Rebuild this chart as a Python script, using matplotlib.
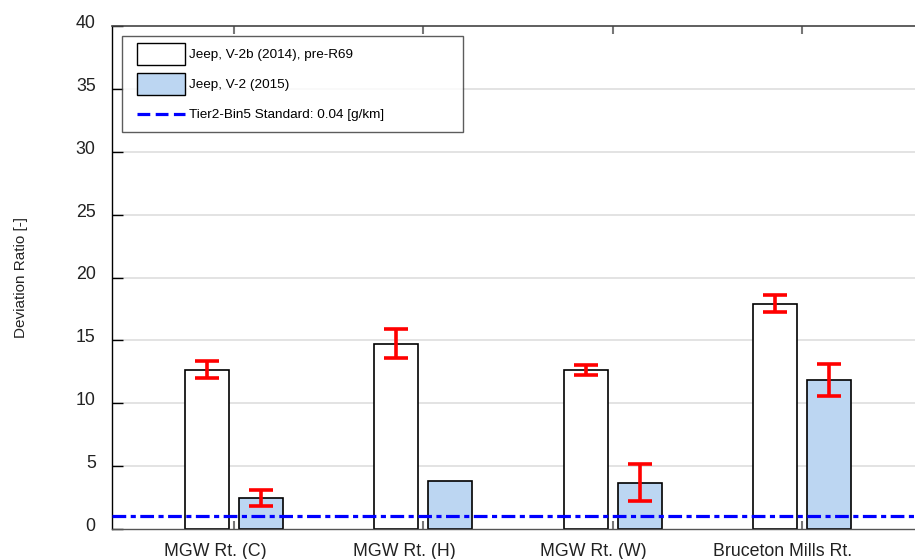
import matplotlib
matplotlib.use("Agg")
import matplotlib.pyplot as plt
import numpy as np
from matplotlib.patches import Patch, Rectangle
from matplotlib.lines import Line2D
from matplotlib.transforms import ScaledTranslation

plt.rcParams['font.family'] = ['Liberation Sans', 'DejaVu Sans']

categories = ["MGW Rt. (C)", "MGW Rt. (H)", "MGW Rt. (W)", "Bruceton Mills Rt."]
series_names = ["Jeep, V-2b (2014), pre-R69", "Jeep, V-2 (2015)"]
v2b_values = [12.65, 14.7, 12.65, 17.9]
v2b_err_low = [12.0, 13.6, 12.27, 17.25]
v2b_err_high = [13.35, 15.9, 13.05, 18.62]
v2_values = [2.45, 3.8, 3.65, 11.82]
v2_err_low = [1.83, np.nan, 2.2, 10.55]
v2_err_high = [3.1, np.nan, 5.14, 13.09]
standard_label = "Tier2-Bin5 Standard: 0.04 [g/km]"
standard_value = 1.0
yticks = [0, 5, 10, 15, 20, 25, 30, 35, 40]

fig = plt.figure(figsize=(9.15, 5.59), dpi=100)
ax = fig.add_axes([111.7/915, 1-529/559, 1-111.7/915, (529-26)/559])

x = np.arange(len(categories))
off = 0.143
w = 0.232

ax.set_axisbelow(True)
for yv in yticks[1:-1]:
    ax.axhline(yv, color='#e3e3e3', lw=1.4, zorder=0)

ax.bar(x - off, v2b_values, width=w, color='white', edgecolor='black', linewidth=1.2, zorder=2)
ax.bar(x + off, v2_values, width=w, color='#bcd6f2', edgecolor='black', linewidth=1.2, zorder=2)

def draw_err(xs, lo, hi):
    for xi, l, h in zip(xs, lo, hi):
        if np.isnan(l):
            continue
        m = (l + h) / 2
        ax.errorbar([xi], [m], yerr=[[m - l], [h - m]],
                    fmt='none', ecolor='#ff0000', elinewidth=2.6, capsize=8.4, capthick=2.6, zorder=4)

draw_err(x - off, v2b_err_low, v2b_err_high)
draw_err(x + off, v2_err_low, v2_err_high)

ls = (0, (4.3, 1.4, 1.6, 1.4))
ax.axhline(standard_value, color='#0000ff', lw=2.3, linestyle=ls, zorder=3)

ax.set_xlim(-0.646, 3.597)
ax.set_ylim(0, 40)
ax.set_yticks(yticks)
ax.set_yticklabels([str(t) for t in yticks], fontsize=12.8, color='#222222')
ax.set_xticks(x)
ax.set_xticklabels(categories, fontsize=12.8, color='#222222')

ax.tick_params(axis='y', direction='in', length=8, width=1, color='black', pad=11.5, left=True, right=False)
ax.tick_params(axis='x', direction='in', length=6, width=1.5, color='#777777', pad=10.4, top=True, bottom=True)

for lab in ax.get_xticklabels():
    lab.set_transform(lab.get_transform() + ScaledTranslation(-0.19, 0, fig.dpi_scale_trans))
for lab in ax.get_yticklabels():
    lab.set_transform(lab.get_transform() + ScaledTranslation(0, 0.045, fig.dpi_scale_trans))

ax.spines['right'].set_visible(False)
ax.spines['left'].set_color('black')
ax.spines['left'].set_linewidth(1.0)
ax.spines['top'].set_color('#444444')
ax.spines['top'].set_linewidth(1.2)
ax.spines['bottom'].set_color('#555555')
ax.spines['bottom'].set_linewidth(1.0)

ax.set_ylabel("Deviation Ratio [-]", fontsize=11, color='#222222')
ax.yaxis.set_label_coords(-0.104, 0.5)


class OffsetHandler:
    """Legend handler drawing a patch or a line shifted right inside the handle box."""
    def __init__(self, kind, shift_px=8):
        self.kind = kind
        self.shift = shift_px

    def legend_artist(self, legend, orig_handle, fontsize, handlebox):
        x0, y0 = handlebox.xdescent, handlebox.ydescent
        wd, ht = handlebox.width, handlebox.height
        s = self.shift * 72 / 100.0
        if self.kind == 'patch':
            art = Rectangle((-x0 + s, -y0), wd - s, ht,
                            facecolor=orig_handle.get_facecolor(),
                            edgecolor=orig_handle.get_edgecolor(),
                            linewidth=orig_handle.get_linewidth(),
                            transform=handlebox.get_transform())
        else:
            art = Line2D([-x0 + s, -x0 + wd], [-y0 + ht / 2, -y0 + ht / 2],
                         color=orig_handle.get_color(), lw=orig_handle.get_linewidth(),
                         linestyle=orig_handle.get_linestyle(),
                         transform=handlebox.get_transform())
            art.set_dashes((4.0, 1.7))
        handlebox.add_artist(art)
        return art


h1 = Patch(facecolor='white', edgecolor='black', linewidth=1.0)
h2 = Patch(facecolor='#bcd6f2', edgecolor='black', linewidth=1.0)
h3 = Line2D([0], [0], color='#0000ff', lw=2.3, linestyle='--')
handles = [h1, h2, h3]
labels = series_names + [standard_label]
leg = ax.legend(handles, labels, loc='upper left', mode='expand',
                bbox_to_anchor=(0.0128, 0.791, 0.4245, 0.189),
                fontsize=9.7, frameon=True, fancybox=False, handlelength=4.15,
                handleheight=2.13, labelspacing=0.59, handletextpad=0.3,
                borderpad=0.52, borderaxespad=0,
                handler_map={h1: OffsetHandler('patch'), h2: OffsetHandler('patch'),
                             h3: OffsetHandler('line')})
leg.get_frame().set_edgecolor('#333333')
leg.get_frame().set_linewidth(1.0)
leg.set_zorder(10)

fig.savefig("out.png", dpi=100)
